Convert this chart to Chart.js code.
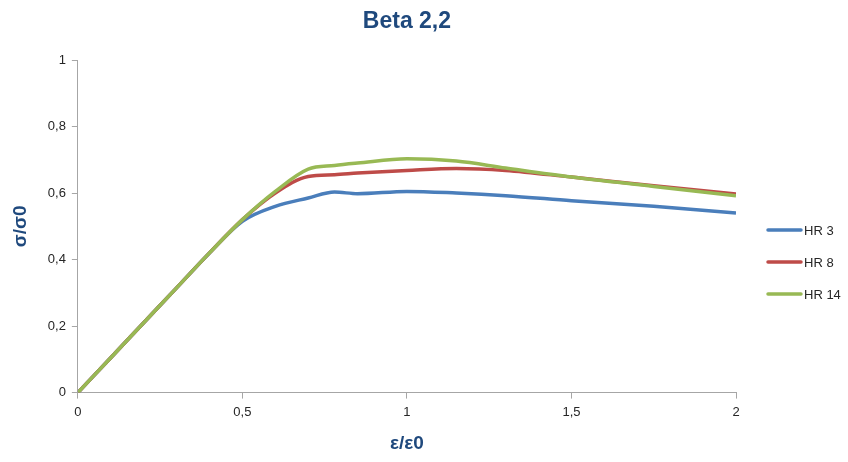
<!DOCTYPE html>
<html>
<head>
<meta charset="utf-8">
<script src="https://cdn.jsdelivr.net/npm/chart.js@4/dist/chart.umd.min.js"></script>
<style>
  html, body { margin: 0; padding: 0; background: #fff; }
  #wrap { width: 848px; height: 462px; }
</style>
</head>
<body>
<div id="wrap"><canvas id="myChart" width="848" height="462"></canvas></div>
<script>
// values
const strain = [0, 0.1, 0.2, 0.3, 0.4, 0.5, 0.6, 0.7, 0.78, 0.85, 1.0, 1.15, 1.3, 1.5, 1.75, 2.0];
const hr3  = [0, 0.105, 0.21, 0.315, 0.42, 0.515, 0.56, 0.585, 0.603, 0.598, 0.605, 0.6, 0.592, 0.577, 0.56, 0.54];
const hr8  = [0, 0.105, 0.21, 0.315, 0.42, 0.52, 0.6, 0.65, 0.655, 0.66, 0.668, 0.674, 0.668, 0.648, 0.622, 0.597];
const hr14 = [0, 0.105, 0.21, 0.315, 0.42, 0.52, 0.605, 0.672, 0.683, 0.69, 0.703, 0.696, 0.675, 0.648, 0.62, 0.592];
const seriesNames = ["HR 3", "HR 8", "HR 14"];
const seriesColors = ["#4A7EBB", "#BE4B48", "#98B954"];
const xTicks = [0, 0.5, 1, 1.5, 2];
const yTicks = [0, 0.2, 0.4, 0.6, 0.8, 1];

const titleBlue = "#1F497D";
const fontName = "'Liberation Sans', Arial, sans-serif";

function toPoints(ys) {
  return ys.map((y, i) => ({ x: strain[i], y: y }));
}

const comma = v => String(Math.round(v * 10) / 10).replace(".", ",");

// title centred over the plot area, legend at the right side
const extras = {
  id: "extras",
  afterDraw(chart) {
    const ctx = chart.ctx;
    const area = chart.chartArea;
    ctx.save();
    ctx.fillStyle = titleBlue;
    ctx.font = "bold 23px " + fontName;
    ctx.textAlign = "center";
    ctx.textBaseline = "middle";
    ctx.fillText("Beta 2,2", (area.left + area.right) / 2, 22);

    ctx.font = "13px " + fontName;
    ctx.textAlign = "left";
    chart.data.datasets.forEach((ds, i) => {
      const y = 230 + i * 32;
      ctx.strokeStyle = ds.borderColor;
      ctx.lineWidth = 3.5;
      ctx.lineCap = "round";
      ctx.beginPath();
      ctx.moveTo(768, y);
      ctx.lineTo(801, y);
      ctx.stroke();
      ctx.fillStyle = "#262626";
      ctx.fillText(ds.label, 804, y + 1);
    });
    ctx.restore();
  }
};

const ctx = document.getElementById("myChart").getContext("2d");
new Chart(ctx, {
  type: "scatter",
  data: {
    datasets: [hr3, hr8, hr14].map((vals, i) => ({
      label: seriesNames[i],
      data: toPoints(vals),
      showLine: true,
      borderColor: seriesColors[i],
      backgroundColor: seriesColors[i],
      borderWidth: 3.5,
      pointRadius: 0,
      cubicInterpolationMode: "monotone",
      tension: 0.4,
      order: 3 - i // last series drawn on top, like the original
    }))
  },
  options: {
    responsive: false,
    animation: false,
    layout: { padding: { top: 60, right: 112, left: 5, bottom: 3 } },
    plugins: {
      legend: { display: false },
      tooltip: { enabled: false }
    },
    scales: {
      x: {
        type: "linear",
        min: 0,
        max: 2,
        afterBuildTicks: axis => { axis.ticks = xTicks.map(v => ({ value: v })); },
        grid: { drawOnChartArea: false, drawTicks: true, tickLength: 6, color: "#A6A6A6" },
        border: { color: "#A6A6A6", width: 1 },
        ticks: { color: "#262626", font: { family: fontName, size: 13 }, padding: 6, callback: comma },
        title: { display: true, text: "ε/ε0", color: titleBlue, font: { family: fontName, size: 19, weight: "bold" }, padding: { top: 6 } }
      },
      y: {
        type: "linear",
        min: 0,
        max: 1,
        afterBuildTicks: axis => { axis.ticks = yTicks.map(v => ({ value: v })); },
        grid: { drawOnChartArea: false, drawTicks: true, tickLength: 6, color: "#A6A6A6" },
        border: { color: "#A6A6A6", width: 1 },
        ticks: { color: "#262626", font: { family: fontName, size: 13 }, padding: 6, callback: comma },
        title: { display: true, text: "σ/σ0", color: titleBlue, font: { family: fontName, size: 19, weight: "bold" }, padding: { bottom: 10 } }
      }
    }
  },
  plugins: [extras]
});
</script>
</body>
</html>
